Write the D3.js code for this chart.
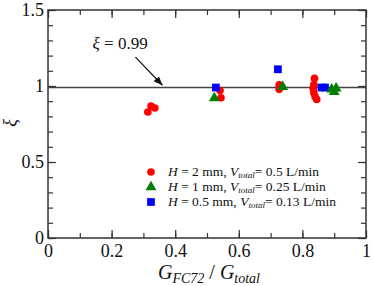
<!DOCTYPE html>
<html>
<head>
<meta charset="utf-8">
<script src="https://d3js.org/d3.v7.min.js"></script>
<style>
  body { margin: 0; background: #fff; }
  text { font-family: "Liberation Serif", "Times New Roman", serif; }
</style>
</head>
<body>
<div id="chart"></div>
<script>
// series: H = 2 mm (red circles)
var redX = [0.314, 0.324, 0.336, 0.541, 0.544, 0.727, 0.727, 0.838, 0.836, 0.834, 0.836, 0.840, 0.845];
var redY = [0.829, 0.868, 0.855, 0.970, 0.923, 1.007, 0.978, 1.050, 1.007, 0.985, 0.956, 0.930, 0.912];
// H = 1 mm (green triangles)
var greenX = [0.523, 0.738, 0.892, 0.906, 0.900];
var greenY = [0.920, 0.995, 0.978, 0.985, 0.962];
// H = 0.5 mm (blue squares)
var blueX = [0.528, 0.723, 0.860, 0.871];
var blueY = [0.990, 1.110, 0.990, 0.990];

var xTicks = [0, 0.2, 0.4, 0.6, 0.8, 1];
var xTickLabels = ["0", "0.2", "0.4", "0.6", "0.8", "1"];
var yTicks = [0, 0.5, 1, 1.5];
var yTickLabels = ["0", "0.5", "1", "1.5"];
var fitValue = 0.99;

var W = 373, H = 286;
var margin = {top: 10, right: 7, bottom: 48, left: 48};
var width = W - margin.left - margin.right,
    height = H - margin.top - margin.bottom;

var svg = d3.select("#chart").append("svg")
    .attr("width", W)
    .attr("height", H);

var g = svg.append("g")
    .attr("transform", "translate(" + margin.left + "," + margin.top + ")");

var x = d3.scaleLinear().domain([0, 1]).range([0, width]);
var y = d3.scaleLinear().domain([0, 1.5]).range([height, 0]);

var axisColor = "#333";
var minorX = d3.range(0, 1.0001, 0.1);
var minorY = d3.range(0, 1.5001, 0.1);

function styleAxis(sel) {
    sel.select(".domain").remove();
    sel.selectAll(".tick line").attr("stroke", axisColor).attr("stroke-width", 1.2);
}

// bottom
g.append("g").attr("transform", "translate(0," + height + ")")
    .call(d3.axisBottom(x).tickValues(minorX).tickSize(-5).tickFormat(""))
    .call(styleAxis);
var xb = g.append("g").attr("transform", "translate(0," + height + ")")
    .call(d3.axisBottom(x).tickValues(xTicks).tickSize(-8)
        .tickFormat(function(d, i) { return xTickLabels[i]; }).tickPadding(6))
    .call(styleAxis);
xb.selectAll("text").attr("font-size", 18).attr("fill", "#111");

// top
g.append("g")
    .call(d3.axisTop(x).tickValues(minorX).tickSize(-5).tickFormat(""))
    .call(styleAxis);
g.append("g")
    .call(d3.axisTop(x).tickValues(xTicks).tickSize(-8).tickFormat(""))
    .call(styleAxis);

// left
g.append("g")
    .call(d3.axisLeft(y).tickValues(minorY).tickSize(-5).tickFormat(""))
    .call(styleAxis);
var yl = g.append("g")
    .call(d3.axisLeft(y).tickValues(yTicks).tickSize(-8)
        .tickFormat(function(d, i) { return yTickLabels[i]; }).tickPadding(4))
    .call(styleAxis);
yl.selectAll("text").attr("font-size", 18).attr("fill", "#111").attr("dy", "0.3em");

// right
g.append("g").attr("transform", "translate(" + width + ",0)")
    .call(d3.axisRight(y).tickValues(minorY).tickSize(-5).tickFormat(""))
    .call(styleAxis);
g.append("g").attr("transform", "translate(" + width + ",0)")
    .call(d3.axisRight(y).tickValues(yTicks).tickSize(-8).tickFormat(""))
    .call(styleAxis);

// frame
g.append("rect")
    .attr("width", width).attr("height", height)
    .attr("fill", "none").attr("stroke", axisColor).attr("stroke-width", 1.5);

// fit line
g.append("line")
    .attr("x1", 0).attr("x2", width)
    .attr("y1", y(fitValue)).attr("y2", y(fitValue))
    .attr("stroke", "#444").attr("stroke-width", 1.5);

// annotation
svg.append("defs").append("marker")
    .attr("id", "arr").attr("viewBox", "0 0 10 10")
    .attr("refX", 10).attr("refY", 5)
    .attr("markerWidth", 9).attr("markerHeight", 9)
    .attr("markerUnits", "userSpaceOnUse")
    .attr("orient", "auto")
    .append("path").attr("d", "M0,1 L10,5 L0,9 Z").attr("fill", "#111");

var ann = g.append("text")
    .attr("x", x(0.14)).attr("y", y(1.245))
    .attr("font-size", 17).attr("fill", "#111");
ann.append("tspan").attr("font-style", "italic").text("ξ");
ann.append("tspan").text(" = 0.99");

g.append("line")
    .attr("x1", x(0.275)).attr("y1", y(1.19))
    .attr("x2", x(0.36)).attr("y2", y(1.005))
    .attr("stroke", "#111").attr("stroke-width", 1.2)
    .attr("marker-end", "url(#arr)");

// data
var redData = redX.map(function(d, i) { return [d, redY[i]]; });
var greenData = greenX.map(function(d, i) { return [d, greenY[i]]; });
var blueData = blueX.map(function(d, i) { return [d, blueY[i]]; });

var sym = {
    circle: d3.symbol().type(d3.symbolCircle).size(46),
    triangle: d3.symbol().type(d3.symbolTriangle).size(52),
    square: d3.symbol().type(d3.symbolSquare).size(60)
};

function plot(data, shape, color) {
    g.selectAll(null).data(data).enter().append("path")
        .attr("d", sym[shape])
        .attr("transform", function(d) { return "translate(" + x(d[0]) + "," + y(d[1]) + ")"; })
        .attr("fill", color);
}
plot(redData, "circle", "#ff0000");
plot(blueData, "square", "#0000ff");
plot(greenData, "triangle", "#008000");

// legend
var legend = [
    {shape: "circle", color: "#ff0000", h: "2", v: "0.5"},
    {shape: "triangle", color: "#008000", h: "1", v: "0.25"},
    {shape: "square", color: "#0000ff", h: "0.5", v: "0.13"}
];
var lg = g.selectAll(".leg").data(legend).enter().append("g")
    .attr("transform", function(d, i) { return "translate(" + (151 - margin.left) + "," + (172 - margin.top + i * 15) + ")"; });
lg.append("path")
    .attr("d", function(d) { return sym[d.shape](); })
    .attr("fill", function(d) { return d.color; });
var lt = lg.append("text").attr("x", 17).attr("dy", "0.33em")
    .attr("font-size", 13.5).attr("fill", "#111");
lt.append("tspan").attr("font-style", "italic").text("H");
lt.append("tspan").text(function(d) { return " = " + d.h + " mm, "; });
lt.append("tspan").attr("font-style", "italic").text("V");
lt.append("tspan").attr("font-style", "italic").attr("font-size", 9).attr("dy", 2).text("total");
lt.append("tspan").attr("dy", -2).text(function(d) { return "= " + d.v + " L/min"; });

// axis labels
var xl = svg.append("text")
    .attr("x", margin.left + width / 2 + 2).attr("y", 279)
    .attr("text-anchor", "middle").attr("font-size", 20).attr("fill", "#111");
xl.append("tspan").attr("font-style", "italic").text("G");
xl.append("tspan").attr("font-style", "italic").attr("font-size", 14).attr("dy", 4).text("FC72");
xl.append("tspan").attr("dy", -4).text(" / ");
xl.append("tspan").attr("font-style", "italic").text("G");
xl.append("tspan").attr("font-style", "italic").attr("font-size", 14).attr("dy", 4).text("total");

svg.append("text")
    .attr("transform", "translate(16," + 123 + ") rotate(-90)")
    .attr("text-anchor", "middle").attr("font-size", 18)
    .attr("font-style", "italic").attr("fill", "#111")
    .text("ξ");
</script>
</body>
</html>
